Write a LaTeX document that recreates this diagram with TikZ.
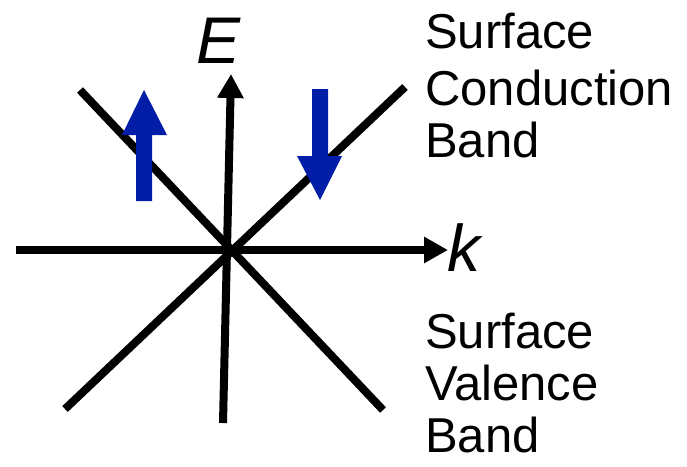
\documentclass[tikz,border=0pt]{standalone}
\usepackage{fontspec}
\setmainfont{Liberation Sans}
\usetikzlibrary{arrows.meta}
\definecolor{spinblue}{RGB}{2,30,168}
\tikzset{
  axis/.style={line width=8pt,-{Triangle[length=24pt,width=25pt]}},
  band/.style={line width=8pt},
  spin/.style={fill=spinblue,draw=none},
  lbl/.style={anchor=base west,inner sep=0pt,font=\fontsize{49pt}{53pt}\selectfont},
  axlbl/.style={anchor=base west,inner sep=0pt,font=\fontsize{66pt}{70pt}\selectfont\itshape}
}
\begin{document}
\begin{tikzpicture}[x=1pt,y=-1pt]
\useasboundingbox (0,0) rectangle (687,466);
% named points
\coordinate (kL) at (16,250);
\coordinate (kR) at (448,250);
\coordinate (eB) at (223,423);
\coordinate (eT) at (231,74);
\coordinate (c1a) at (80,90);
\coordinate (c1b) at (383,410);
\coordinate (c2a) at (65,409);
\coordinate (c2b) at (405,87);
% bands
\draw[band] (c1a) -- (c1b);
\draw[band] (c2a) -- (c2b);
% axes
\draw[axis] (kL) -- (kR);
\draw[axis] (eB) -- (eT);
% spin arrows
\fill[spin] (136,201) -- (152,201) -- (152,135) -- (167,135) -- (144,90) -- (122,135) -- (136,135) -- cycle;
\fill[spin] (312,89) -- (328,89) -- (328,156) -- (342,156) -- (320,200) -- (297,156) -- (312,156) -- cycle;
% labels
\node[axlbl] (E) at (196,63) {E};
\node[axlbl] (k) at (447,271) {k};
\node[lbl] (cb1) at (425,48) {Surface};
\node[lbl] (cb2) at (425,105) {Conduction};
\node[lbl] (cb3) at (425,157) {Band};
\node[lbl] (vb1) at (425,348) {Surface};
\node[lbl] (vb2) at (425,400) {Valence};
\node[lbl] (vb3) at (425,452) {Band};
\end{tikzpicture}
\end{document}
